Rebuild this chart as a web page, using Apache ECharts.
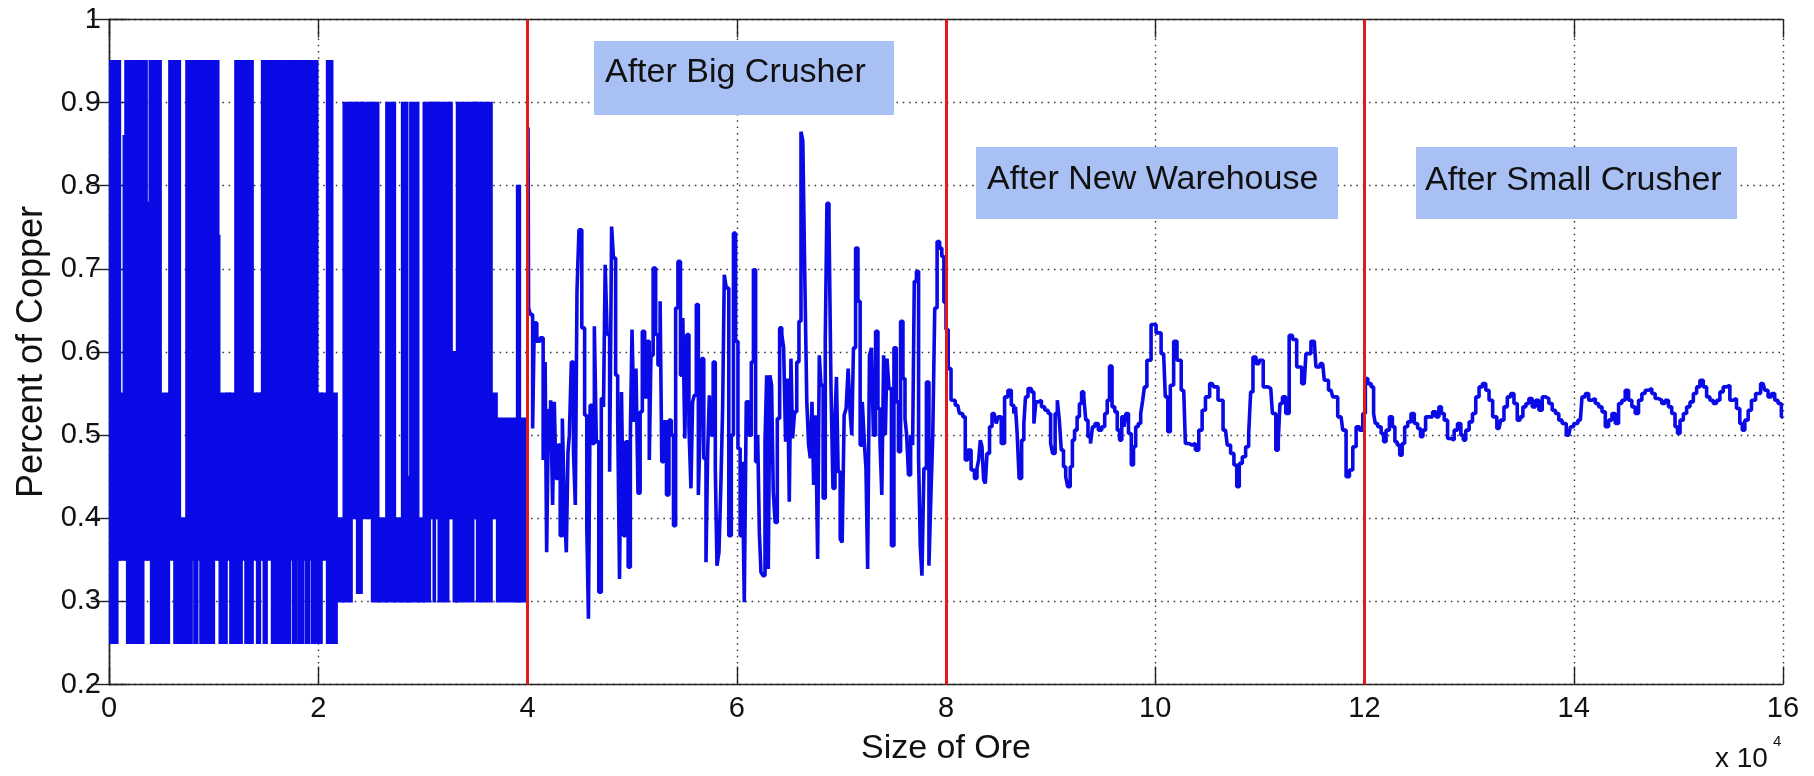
<!DOCTYPE html>
<html>
<head>
<meta charset="utf-8">
<script src="https://cdn.jsdelivr.net/npm/echarts@6/dist/echarts.min.js"></script>
<style>
  html, body { margin: 0; padding: 0; background: #fff; }
  #chart { width: 1814px; height: 776px; }
</style>
</head>
<body>
<div id="chart"></div>
<script>
// ---------------- data (x in units of 10^4) ----------------
const xTicks = [0, 2, 4, 6, 8, 10, 12, 14, 16];
const yTicks = [0.2, 0.3, 0.4, 0.5, 0.6, 0.7, 0.8, 0.9, 1];
const phaseBreaks = [4, 8, 12];
const phaseLabels = ['After Big Crusher', 'After New Warehouse', 'After Small Crusher'];

// Before the big crusher the signal switches so fast it reads as solid bands:
// each entry is [xStart, xEnd, lowest value, highest value] of one band column.
const rawBands = [
  [0.000,0.082,0.25,0.95],[0.082,0.107,0.35,0.95],[0.107,0.155,0.35,0.55],[0.139,0.150,0.55,0.86],
  [0.155,0.171,0.35,0.95],[0.171,0.298,0.25,0.95],[0.298,0.314,0.25,0.82],[0.314,0.330,0.25,0.95],
  [0.330,0.362,0.35,0.95],[0.362,0.387,0.35,0.78],[0.387,0.400,0.35,0.95],[0.400,0.496,0.25,0.95],
  [0.496,0.575,0.25,0.55],[0.575,0.623,0.35,0.95],[0.623,0.680,0.25,0.95],[0.680,0.738,0.25,0.40],
  [0.738,0.792,0.25,0.95],[0.792,0.814,0.35,0.95],[0.814,0.846,0.25,0.95],[0.846,0.872,0.35,0.95],
  [0.872,1.005,0.25,0.95],[1.005,1.047,0.35,0.95],[1.047,1.056,0.35,0.74],[1.056,1.126,0.25,0.55],
  [1.126,1.158,0.35,0.55],[1.158,1.206,0.25,0.55],[1.206,1.270,0.25,0.95],[1.270,1.302,0.35,0.95],
  [1.302,1.375,0.25,0.95],[1.375,1.413,0.35,0.55],[1.413,1.445,0.25,0.55],[1.445,1.461,0.35,0.55],
  [1.461,1.477,0.35,0.95],[1.477,1.509,0.25,0.95],[1.509,1.556,0.35,0.95],[1.556,1.732,0.25,0.95],
  [1.732,1.757,0.35,0.95],[1.757,1.795,0.25,0.95],[1.795,1.811,0.35,0.95],[1.811,1.859,0.25,0.95],
  [1.859,1.881,0.35,0.95],[1.881,1.916,0.25,0.95],[1.916,1.939,0.35,0.95],[1.939,1.993,0.25,0.95],
  [1.993,2.034,0.25,0.55],[2.034,2.082,0.35,0.55],[2.082,2.136,0.25,0.95],[2.136,2.178,0.25,0.55],
  [2.178,2.241,0.30,0.40],[2.241,2.321,0.30,0.90],[2.321,2.369,0.40,0.90],[2.369,2.417,0.31,0.90],
  [2.417,2.512,0.40,0.90],[2.512,2.576,0.30,0.90],[2.576,2.649,0.30,0.40],[2.649,2.735,0.30,0.90],
  [2.735,2.799,0.30,0.40],[2.799,2.853,0.30,0.90],[2.853,2.878,0.30,0.45],[2.878,2.958,0.30,0.90],
  [2.958,3.006,0.30,0.40],[3.006,3.069,0.30,0.90],[3.069,3.101,0.40,0.90],[3.101,3.117,0.30,0.90],
  [3.117,3.149,0.40,0.90],[3.149,3.245,0.30,0.90],[3.245,3.277,0.40,0.90],[3.277,3.293,0.40,0.60],
  [3.293,3.324,0.30,0.60],[3.324,3.484,0.30,0.90],[3.484,3.516,0.40,0.90],[3.516,3.659,0.30,0.90],
  [3.659,3.707,0.40,0.55],[3.707,3.898,0.30,0.52],[3.898,3.930,0.30,0.80],[3.930,4.000,0.30,0.52]
];

// After big crusher (4 - 8)
const bigCrusherX = [4.005,4.016,4.041,4.057,4.073,4.105,4.137,4.162,4.175,4.191,4.210,4.232,4.248,4.264,4.280,4.303,4.322,4.344,4.360,4.382,4.392,4.408,4.430,4.449,4.465,4.481,4.503,4.535,4.557,4.576,4.589,4.608,4.631,4.647,4.669,4.694,4.717,4.736,4.749,4.774,4.796,4.812,4.831,4.854,4.870,4.889,4.908,4.927,4.949,4.975,4.991,5.007,5.029,5.045,5.067,5.086,5.109,5.131,5.156,5.172,5.188,5.214,5.236,5.258,5.277,5.290,5.316,5.341,5.363,5.386,5.405,5.427,5.449,5.475,5.494,5.513,5.532,5.554,5.570,5.586,5.602,5.625,5.641,5.656,5.672,5.698,5.714,5.730,5.746,5.762,5.787,5.803,5.819,5.841,5.857,5.873,5.889,5.911,5.937,5.959,5.978,6.000,6.023,6.042,6.064,6.080,6.102,6.128,6.150,6.169,6.192,6.208,6.224,6.239,6.262,6.278,6.294,6.309,6.325,6.341,6.357,6.376,6.399,6.421,6.440,6.456,6.478,6.494,6.510,6.526,6.542,6.564,6.583,6.606,6.622,6.641,6.660,6.679,6.695,6.711,6.727,6.743,6.765,6.781,6.797,6.813,6.838,6.854,6.870,6.893,6.908,6.931,6.947,6.959,6.979,6.998,7.017,7.036,7.055,7.074,7.093,7.106,7.125,7.147,7.170,7.189,7.211,7.227,7.243,7.259,7.278,7.297,7.316,7.338,7.361,7.377,7.396,7.412,7.428,7.444,7.466,7.491,7.514,7.536,7.555,7.577,7.600,7.616,7.632,7.651,7.673,7.689,7.705,7.730,7.746,7.762,7.778,7.800,7.826,7.848,7.864,7.883,7.902,7.928,7.950,7.970,7.990];
const bigCrusherY = [0.870,0.653,0.645,0.508,0.635,0.613,0.617,0.470,0.588,0.359,0.530,0.542,0.416,0.540,0.448,0.488,0.379,0.520,0.416,0.359,0.480,0.500,0.588,0.480,0.416,0.673,0.747,0.629,0.524,0.391,0.279,0.536,0.490,0.631,0.492,0.311,0.544,0.534,0.705,0.621,0.456,0.751,0.713,0.572,0.520,0.327,0.552,0.379,0.492,0.341,0.500,0.627,0.516,0.580,0.430,0.528,0.625,0.546,0.613,0.470,0.596,0.701,0.621,0.584,0.661,0.468,0.516,0.428,0.518,0.500,0.391,0.653,0.709,0.572,0.641,0.496,0.621,0.510,0.436,0.540,0.548,0.657,0.428,0.500,0.592,0.472,0.347,0.480,0.548,0.500,0.588,0.460,0.343,0.359,0.444,0.532,0.693,0.677,0.379,0.500,0.743,0.613,0.484,0.379,0.468,0.299,0.540,0.500,0.588,0.699,0.468,0.500,0.383,0.335,0.331,0.492,0.572,0.339,0.572,0.560,0.432,0.395,0.520,0.629,0.621,0.605,0.492,0.568,0.420,0.592,0.496,0.528,0.588,0.637,0.865,0.854,0.689,0.540,0.488,0.472,0.540,0.440,0.524,0.351,0.596,0.560,0.424,0.613,0.779,0.757,0.560,0.436,0.520,0.570,0.456,0.375,0.371,0.524,0.532,0.580,0.528,0.500,0.605,0.725,0.661,0.488,0.540,0.492,0.460,0.339,0.596,0.605,0.500,0.625,0.532,0.492,0.428,0.596,0.500,0.592,0.556,0.367,0.605,0.540,0.480,0.637,0.568,0.520,0.500,0.452,0.500,0.488,0.685,0.697,0.472,0.367,0.331,0.460,0.564,0.343,0.428,0.500,0.653,0.733,0.725,0.715,0.660];

// After new warehouse (8 - 12)
const warehouseX = [8.010,8.032,8.064,8.112,8.144,8.176,8.192,8.224,8.256,8.288,8.304,8.320,8.336,8.352,8.368,8.384,8.400,8.432,8.448,8.474,8.486,8.512,8.544,8.576,8.608,8.640,8.656,8.672,8.688,8.710,8.736,8.752,8.768,8.800,8.832,8.848,8.870,8.896,8.928,8.960,8.992,9.008,9.030,9.056,9.072,9.094,9.110,9.136,9.152,9.174,9.200,9.216,9.242,9.264,9.286,9.306,9.328,9.344,9.370,9.392,9.408,9.440,9.472,9.504,9.530,9.552,9.574,9.600,9.626,9.648,9.670,9.690,9.712,9.728,9.760,9.782,9.802,9.824,9.850,9.872,9.888,9.904,9.936,9.984,10.032,10.080,10.112,10.128,10.160,10.192,10.224,10.272,10.304,10.336,10.368,10.400,10.432,10.464,10.496,10.544,10.576,10.624,10.672,10.704,10.736,10.768,10.790,10.816,10.848,10.880,10.906,10.918,10.950,10.976,11.008,11.056,11.104,11.136,11.168,11.184,11.200,11.232,11.264,11.296,11.328,11.376,11.424,11.456,11.520,11.552,11.600,11.632,11.680,11.712,11.776,11.808,11.840,11.872,11.904,11.936,11.968,12.000];
const warehouseY = [0.627,0.580,0.542,0.536,0.526,0.522,0.470,0.482,0.458,0.448,0.460,0.470,0.494,0.486,0.446,0.442,0.478,0.510,0.526,0.528,0.514,0.522,0.490,0.546,0.554,0.536,0.526,0.534,0.502,0.448,0.494,0.514,0.546,0.556,0.552,0.514,0.540,0.542,0.534,0.530,0.526,0.490,0.478,0.526,0.542,0.518,0.482,0.462,0.450,0.438,0.462,0.494,0.506,0.522,0.538,0.552,0.546,0.518,0.498,0.490,0.510,0.514,0.506,0.510,0.526,0.542,0.583,0.534,0.528,0.506,0.494,0.522,0.510,0.526,0.502,0.464,0.486,0.510,0.514,0.526,0.542,0.558,0.590,0.633,0.623,0.598,0.546,0.504,0.560,0.613,0.590,0.554,0.490,0.488,0.490,0.482,0.506,0.530,0.546,0.562,0.558,0.542,0.506,0.488,0.478,0.464,0.438,0.466,0.474,0.486,0.502,0.552,0.594,0.586,0.590,0.558,0.556,0.526,0.482,0.494,0.538,0.546,0.526,0.620,0.615,0.582,0.562,0.598,0.613,0.582,0.586,0.566,0.554,0.546,0.522,0.506,0.450,0.458,0.486,0.510,0.506,0.526];

// After small crusher (12 - 16)
const smallCrusherX = [12.016,12.048,12.079,12.095,12.111,12.143,12.175,12.190,12.222,12.254,12.279,12.302,12.324,12.349,12.371,12.397,12.429,12.460,12.492,12.524,12.546,12.571,12.597,12.635,12.667,12.698,12.724,12.746,12.778,12.810,12.841,12.873,12.905,12.937,12.952,12.984,13.016,13.048,13.079,13.111,13.143,13.175,13.206,13.244,13.286,13.317,13.349,13.381,13.413,13.444,13.476,13.498,13.530,13.556,13.587,13.619,13.651,13.683,13.714,13.746,13.778,13.810,13.841,13.873,13.905,13.952,13.984,14.016,14.063,14.095,14.127,14.159,14.190,14.222,14.254,14.286,14.317,14.349,14.381,14.413,14.444,14.476,14.508,14.540,14.571,14.603,14.635,14.667,14.698,14.730,14.762,14.794,14.825,14.857,14.889,14.921,14.952,14.984,15.000,15.032,15.063,15.095,15.127,15.159,15.190,15.222,15.254,15.286,15.317,15.349,15.381,15.413,15.444,15.476,15.508,15.540,15.571,15.603,15.619,15.651,15.683,15.714,15.762,15.810,15.841,15.873,15.905,15.937,15.968,16.000];
const smallCrusherY = [0.568,0.562,0.558,0.526,0.514,0.510,0.502,0.492,0.506,0.522,0.510,0.492,0.488,0.476,0.490,0.510,0.516,0.526,0.514,0.508,0.498,0.506,0.522,0.522,0.528,0.522,0.534,0.526,0.518,0.496,0.494,0.506,0.514,0.500,0.494,0.506,0.516,0.526,0.546,0.558,0.562,0.554,0.542,0.522,0.508,0.518,0.534,0.546,0.550,0.538,0.518,0.522,0.534,0.538,0.544,0.534,0.542,0.530,0.546,0.544,0.538,0.530,0.526,0.518,0.514,0.500,0.510,0.514,0.518,0.546,0.550,0.542,0.544,0.538,0.534,0.528,0.510,0.518,0.526,0.514,0.538,0.542,0.554,0.542,0.534,0.526,0.542,0.550,0.554,0.556,0.550,0.544,0.542,0.538,0.542,0.534,0.526,0.510,0.502,0.518,0.526,0.534,0.540,0.550,0.558,0.566,0.558,0.546,0.542,0.538,0.542,0.552,0.558,0.560,0.542,0.544,0.532,0.514,0.506,0.518,0.530,0.542,0.550,0.562,0.554,0.546,0.550,0.542,0.538,0.522];

// ---------------- chart ----------------
const FONT = 'Liberation Sans, Arial, Helvetica, sans-serif';
const BLUE = '#0a0ae6';
const RED = '#e01b1b';
const GRID_DOT = { color: '#333', width: 1.4, type: [1.5, 4.8] };

const zip = (xs, ys) => xs.map((x, i) => [x, ys[i]]);
const traceData = zip(bigCrusherX, bigCrusherY)
  .concat(zip(warehouseX, warehouseY))
  .concat(zip(smallCrusherX, smallCrusherY));

const fmtY = v => String(Math.round(v * 10) / 10);

const chart = echarts.init(document.getElementById('chart'), null, { renderer: 'canvas' });

const boxStyle = { fill: '#a9c0f5' };
const labelStyle = { fill: '#111', font: '34px ' + FONT, verticalAlign: 'middle', align: 'left' };
const boxes = [
  { x: 594, y: 41, w: 300, h: 74, tx: 605, ty: 72.5 },
  { x: 976, y: 147, w: 362, h: 72, tx: 987, ty: 180 },
  { x: 1416, y: 147, w: 321, h: 72, tx: 1425, ty: 180.5 }
];
const annotationGraphics = [];
boxes.forEach((b, i) => {
  annotationGraphics.push({ type: 'rect', left: b.x, top: b.y, z: 100,
    shape: { width: b.w, height: b.h }, style: boxStyle });
  annotationGraphics.push({ type: 'text', x: b.tx, y: b.ty, z: 101,
    style: Object.assign({ text: phaseLabels[i] }, labelStyle) });
});
annotationGraphics.push({ type: 'text', x: 1715, y: 759, z: 101,
  style: { text: 'x 10', fill: '#111', font: '28px ' + FONT, verticalAlign: 'middle' } });
annotationGraphics.push({ type: 'text', x: 1773, y: 742, z: 101,
  style: { text: '4', fill: '#111', font: '15px ' + FONT, verticalAlign: 'middle' } });

const axisLineStyle = { show: true, lineStyle: { color: '#222', width: 1.4 } };
const tickStyle = { show: true, inside: true, length: 18, lineStyle: { color: '#222', width: 1.4 } };

const option = {
  animation: false,
  backgroundColor: '#fff',
  grid: { left: 109, right: 31, top: 19.5, bottom: 91.5, containLabel: false },
  xAxis: [
    {
      type: 'value', position: 'bottom', min: xTicks[0], max: xTicks[xTicks.length - 1], interval: 2,
      axisLine: axisLineStyle, axisTick: tickStyle,
      axisLabel: { color: '#111', fontSize: 29, fontFamily: FONT, margin: 10, formatter: v => String(v) },
      splitLine: { show: true, lineStyle: GRID_DOT },
      name: 'Size of Ore', nameLocation: 'middle', nameGap: 47,
      nameTextStyle: { color: '#111', fontSize: 34, fontFamily: FONT }
    },
    {
      type: 'value', position: 'top', min: xTicks[0], max: xTicks[xTicks.length - 1], interval: 2,
      axisLine: axisLineStyle, axisTick: tickStyle, axisLabel: { show: false }, splitLine: { show: false }
    }
  ],
  yAxis: [
    {
      type: 'value', position: 'left', min: yTicks[0], max: yTicks[yTicks.length - 1], interval: 0.1,
      axisLine: axisLineStyle, axisTick: tickStyle,
      axisLabel: { color: '#111', fontSize: 29, fontFamily: FONT, margin: 8, formatter: fmtY },
      splitLine: { show: true, lineStyle: GRID_DOT },
      name: 'Percent of Copper', nameLocation: 'middle', nameGap: 58, nameRotate: 90,
      nameTextStyle: { color: '#111', fontSize: 36, fontFamily: FONT }
    },
    {
      type: 'value', position: 'right', min: yTicks[0], max: yTicks[yTicks.length - 1], interval: 0.1,
      axisLine: axisLineStyle, axisTick: tickStyle, axisLabel: { show: false }, splitLine: { show: false }
    }
  ],
  series: [
    {
      type: 'custom', name: 'dense', xAxisIndex: 0, yAxisIndex: 0, clip: true, z: 3,
      data: rawBands,
      encode: { x: [0, 1], y: [2, 3] },
      renderItem: function (params, api) {
        const p0 = api.coord([api.value(0), api.value(3)]);
        const p1 = api.coord([api.value(1), api.value(2)]);
        return {
          type: 'rect',
          shape: { x: p0[0], y: p0[1], width: p1[0] - p0[0], height: p1[1] - p0[1] },
          style: { fill: BLUE, stroke: BLUE, lineWidth: 2 }
        };
      }
    },
    {
      type: 'line', name: 'copper', xAxisIndex: 0, yAxisIndex: 0, z: 3,
      data: traceData, showSymbol: false, symbol: 'none', step: 'middle',
      lineStyle: { color: BLUE, width: 3.6 },
      markLine: {
        silent: true, symbol: 'none', animation: false,
        label: { show: false },
        lineStyle: { color: RED, width: 3, type: 'solid' },
        data: phaseBreaks.map(x => ({ xAxis: x }))
      }
    }
  ],
  graphic: annotationGraphics
};
chart.setOption(option);
</script>
</body>
</html>
